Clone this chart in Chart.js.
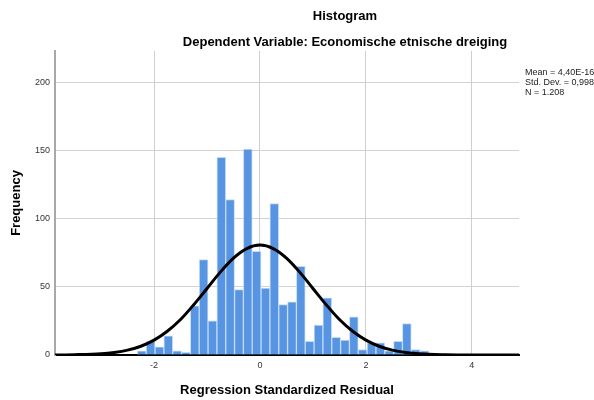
<!DOCTYPE html>
<html lang="en">
<head>
<meta charset="UTF-8">
<title>Histogram</title>
<script src="https://cdn.jsdelivr.net/npm/chart.js"></script>
<style>
    html, body { margin: 0; padding: 0; background: #fff; }
</style>
</head>
<body>
<canvas id="myChart" width="594" height="400"></canvas>
<script>
// bins of the regression standardized residual
var binStart = -2.315;
var binWidth = 0.1668;
var frequencies = [3, 10, 6, 14, 3, 2, 36, 70, 25, 145, 114, 48, 151, 76, 49, 111,
    37, 39, 65, 10, 22, 42, 13, 11, 28, 4, 9, 9, 3, 10, 23, 4, 3];

// normal curve, values
var curveX = [-3.87, -3.5, -3, -2.75, -2.5, -2.25, -2, -1.75, -1.5, -1.25, -1, -0.75, -0.5, -0.25,
    0, 0.25, 0.5, 0.75, 1, 1.25, 1.5, 1.75, 2, 2.25, 2.5, 2.75, 3, 3.5, 4, 4.89];
var curveY = [0, 0.2, 0.9, 1.9, 3.6, 6.4, 10.9, 17.4, 26, 36.9, 48.8, 60.8, 71.1, 78.1,
    80.6, 78.1, 71.1, 60.8, 48.8, 36.9, 26, 17.4, 10.9, 6.4, 3.6, 1.9, 0.9, 0.2, 0, 0];

var xTicks = [-2, 0, 2, 4];
var yTicks = [0, 50, 100, 150, 200];

var titleText = 'Histogram';
var subtitleText = 'Dependent Variable: Economische etnische dreiging';
var statsLines = ['Mean = 4,40E-16', 'Std. Dev. = 0,998', 'N = 1.208'];

var fam = '"Liberation Sans", Arial, sans-serif';

var barData = frequencies.map(function (f, i) {
    return { x: binStart + binWidth * (i + 0.5), y: f };
});
var curveData = curveX.map(function (x, i) {
    return { x: x, y: curveY[i] };
});

// titles, x tick labels and the stats box, SPSS style
var textPlugin = {
    id: 'spssText',
    afterDraw: function (chart) {
        var c = chart.ctx;
        var sx = chart.scales.x;
        c.save();
        c.fillStyle = '#000';
        c.textAlign = 'center';
        c.textBaseline = 'middle';
        c.font = 'bold 13px ' + fam;
        c.fillText(titleText, 345, 16);
        c.fillText(subtitleText, 345, 42);

        c.font = '9px ' + fam;
        c.fillStyle = '#333';
        xTicks.forEach(function (v) {
            c.fillText(String(v), sx.getPixelForValue(v), sx.top + 11);
        });

        c.fillStyle = '#222';
        c.textAlign = 'left';
        statsLines.forEach(function (t, i) {
            c.fillText(t, 525, 73 + i * 10);
        });
        c.restore();
    }
};

var ctx = document.getElementById('myChart').getContext('2d');

var myChart = new Chart(ctx, {
    type: 'bar',
    data: {
        datasets: [{
            type: 'line',
            data: curveData,
            borderColor: '#000',
            borderWidth: 3,
            pointRadius: 0,
            tension: 0.4,
            cubicInterpolationMode: 'monotone',
            fill: false,
            order: 0
        }, {
            type: 'bar',
            data: barData,
            backgroundColor: '#5794e1',
            borderColor: 'rgba(190,215,245,0.9)',
            borderWidth: 1,
            barPercentage: 1,
            categoryPercentage: 1,
            order: 1
        }]
    },
    options: {
        responsive: false,
        animation: false,
        layout: { padding: { top: 51, right: 75, left: 0, bottom: 0 } },
        plugins: {
            legend: { display: false },
            tooltip: { enabled: false }
        },
        scales: {
            x: {
                type: 'linear',
                offset: false,
                min: -3.87,
                max: 4.89,
                afterBuildTicks: function (s) { s.ticks = xTicks.map(function (v) { return { value: v }; }); },
                afterFit: function (s) { s.height = 45; },
                grid: { color: '#cfcfcf', lineWidth: 1, drawTicks: false, offset: false },
                border: { color: '#000', width: 2 },
                ticks: { display: false },
                title: {
                    display: true,
                    text: 'Regression Standardized Residual',
                    color: '#000',
                    font: { size: 13, weight: 'bold', family: fam },
                    padding: { top: 0, bottom: 2 }
                }
            },
            y: {
                min: 0,
                max: 223,
                afterBuildTicks: function (s) { s.ticks = yTicks.map(function (v) { return { value: v }; }); },
                afterFit: function (s) { s.width = 55; },
                grid: { color: '#d2d2d2', lineWidth: 1, drawTicks: false },
                border: { color: '#a8a8a8', width: 2 },
                ticks: { padding: 5, color: '#333', font: { size: 9, family: fam } },
                title: {
                    display: true,
                    text: 'Frequency',
                    color: '#000',
                    font: { size: 13, weight: 'bold', family: fam },
                    padding: { top: 9, bottom: 0 }
                }
            }
        }
    },
    plugins: [textPlugin]
});
</script>
</body>
</html>
